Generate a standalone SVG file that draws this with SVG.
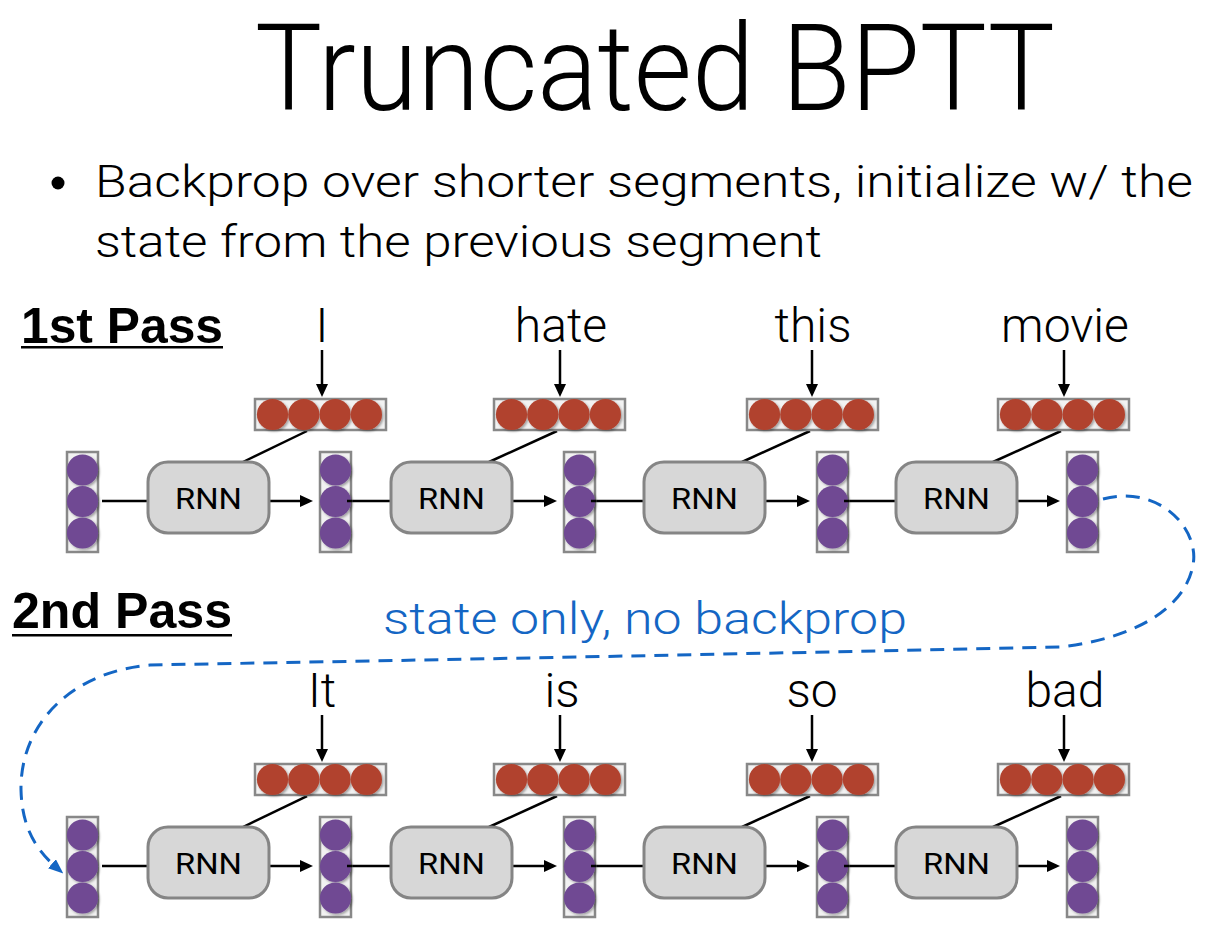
<svg xmlns="http://www.w3.org/2000/svg" xmlns:xlink="http://www.w3.org/1999/xlink" width="1217" height="940" viewBox="0 0 1217 940">
<style>
.light{font-family:Roboto,'Liberation Sans',sans-serif;font-weight:300;fill:#000}
.bold{font-family:'Liberation Sans',Arial,sans-serif;font-weight:bold;fill:#000}
.blue{fill:#1466c4}
.rnnbox{fill:#d7d7d7;stroke:#858585;stroke-width:3}
.rnntxt{font-family:Roboto,'Liberation Sans',sans-serif;font-weight:400;font-size:30px;text-anchor:middle;fill:#000}
.lbl{font-family:Roboto,'Liberation Sans',sans-serif;font-weight:300;font-size:48px;text-anchor:middle;fill:#000}
.edge{stroke:#000;stroke-width:2.5;fill:none}
.arr{stroke:#000;stroke-width:2.5;fill:none;marker-end:url(#ah)}
.vecbox{fill:#f2f2f2;stroke:#888;stroke-width:2.5}
.purple{fill:#6f4a93}
.red{fill:#b1432f}
.dash{stroke:#1466c4;stroke-width:3;fill:none;stroke-dasharray:14 9;marker-end:url(#bh)}
</style>
<defs>
<filter id="sh" x="-30%" y="-30%" width="160%" height="160%">
<feDropShadow dx="1.5" dy="1.5" stdDeviation="1.2" flood-color="#000" flood-opacity="0.35"/>
</filter>
<marker id="ah" viewBox="0 0 13 12" refX="7" refY="6" markerWidth="13" markerHeight="12" markerUnits="userSpaceOnUse" orient="auto">
<path d="M0,0 L13,6 L0,12 z" fill="#000"/>
</marker>
<marker id="bh" viewBox="0 0 15 12" refX="8" refY="6" markerWidth="15" markerHeight="12" markerUnits="userSpaceOnUse" orient="auto">
<path d="M0,0 L15,6 L0,12 z" fill="#1466c4"/>
</marker>
<g id="stateVec">
<rect class="vecbox" x="0" y="0" width="31" height="100"/>
<g filter="url(#sh)">
<circle class="purple" cx="15.5" cy="18" r="15.6"/>
<circle class="purple" cx="15.5" cy="49.5" r="15.6"/>
<circle class="purple" cx="15.5" cy="81" r="15.6"/>
</g>
</g>
<g id="embVec">
<rect class="vecbox" x="0" y="0" width="131" height="31"/>
<g filter="url(#sh)">
<circle class="red" cx="17.5" cy="15.5" r="15.6"/>
<circle class="red" cx="48.8" cy="15.5" r="15.6"/>
<circle class="red" cx="80.1" cy="15.5" r="15.6"/>
<circle class="red" cx="111.4" cy="15.5" r="15.6"/>
</g>
</g>
<g id="rnn">
<rect class="rnnbox" x="0" y="0" width="121" height="71" rx="20" ry="20"/>
<text class="rnntxt" x="60.5" y="47" textLength="67" lengthAdjust="spacingAndGlyphs">RNN</text>
</g>
</defs>

<g id="title">
<text class="light" x="255" y="110" font-size="121" textLength="800" lengthAdjust="spacingAndGlyphs">Truncated BPTT</text>
</g>
<g id="bullet">
<circle cx="58" cy="183" r="6.5" fill="#000"/>
<text class="light" x="95" y="197" font-size="44" textLength="1098" lengthAdjust="spacingAndGlyphs">Backprop over shorter segments, initialize w/ the</text>
<text class="light" x="95" y="257" font-size="44" textLength="727" lengthAdjust="spacingAndGlyphs">state from the previous segment</text>
</g>

<g id="pass1-label">
<text class="bold" x="21" y="343" font-size="50" textLength="202" lengthAdjust="spacingAndGlyphs">1st Pass</text>
<rect x="21" y="346" width="202" height="2.5" fill="#000"/>
</g>
<g id="pass2-label">
<text class="bold" x="12" y="628" font-size="50" textLength="220" lengthAdjust="spacingAndGlyphs">2nd Pass</text>
<rect x="12" y="634" width="220" height="2.5" fill="#000"/>
</g>
<g id="state-note">
<text class="light blue" x="383" y="634" font-size="44" textLength="524" lengthAdjust="spacingAndGlyphs">state only, no backprop</text>
</g>

<g id="connectors">
<!-- pass 1 -->
<line class="arr" x1="322" y1="350" x2="322" y2="391"/>
<line class="arr" x1="560" y1="350" x2="560" y2="391"/>
<line class="arr" x1="812" y1="350" x2="812" y2="391"/>
<line class="arr" x1="1064" y1="350" x2="1064" y2="391"/>
<line class="edge" x1="307" y1="431" x2="243" y2="462"/>
<line class="edge" x1="557" y1="431" x2="489" y2="462"/>
<line class="edge" x1="810" y1="431" x2="742" y2="462"/>
<line class="edge" x1="1061" y1="431" x2="993" y2="462"/>
<line class="edge" x1="102" y1="501" x2="148" y2="501"/>
<line class="edge" x1="347" y1="501" x2="391" y2="501"/>
<line class="edge" x1="591" y1="501" x2="644" y2="501"/>
<line class="edge" x1="844" y1="501" x2="896" y2="501"/>
<line class="arr" x1="269" y1="501" x2="307" y2="501"/>
<line class="arr" x1="512" y1="501" x2="551" y2="501"/>
<line class="arr" x1="765" y1="501" x2="804" y2="501"/>
<line class="arr" x1="1017" y1="501" x2="1054" y2="501"/>
<!-- pass 2 -->
<line class="arr" x1="322" y1="715" x2="322" y2="756"/>
<line class="arr" x1="560" y1="715" x2="560" y2="756"/>
<line class="arr" x1="812" y1="715" x2="812" y2="756"/>
<line class="arr" x1="1064" y1="715" x2="1064" y2="756"/>
<line class="edge" x1="307" y1="796" x2="243" y2="827"/>
<line class="edge" x1="557" y1="796" x2="489" y2="827"/>
<line class="edge" x1="810" y1="796" x2="742" y2="827"/>
<line class="edge" x1="1061" y1="796" x2="993" y2="827"/>
<line class="edge" x1="102" y1="866" x2="148" y2="866"/>
<line class="edge" x1="347" y1="866" x2="391" y2="866"/>
<line class="edge" x1="591" y1="866" x2="644" y2="866"/>
<line class="edge" x1="844" y1="866" x2="896" y2="866"/>
<line class="arr" x1="269" y1="866" x2="307" y2="866"/>
<line class="arr" x1="512" y1="866" x2="551" y2="866"/>
<line class="arr" x1="765" y1="866" x2="804" y2="866"/>
<line class="arr" x1="1017" y1="866" x2="1054" y2="866"/>
<!-- state carry-over -->
<path class="dash" d="M1103,499 C1160,484 1200,530 1193,565 C1186,605 1140,638 1060,647 Q600,657 150,665 C70,672 20,725 21,790 C22,828 36,850 58,869"/>
</g>

<g id="labels1">
<text class="lbl" x="322" y="342">I</text>
<text class="lbl" x="561" y="342">hate</text>
<text class="lbl" x="813" y="342">this</text>
<text class="lbl" x="1065" y="342">movie</text>
</g>
<g id="labels2">
<text class="lbl" x="322" y="707">It</text>
<text class="lbl" x="562" y="707">is</text>
<text class="lbl" x="812" y="707">so</text>
<text class="lbl" x="1065" y="707">bad</text>
</g>

<g id="p1-emb1"><use xlink:href="#embVec" x="255" y="399"/></g>
<g id="p1-emb2"><use xlink:href="#embVec" x="494" y="399"/></g>
<g id="p1-emb3"><use xlink:href="#embVec" x="747" y="399"/></g>
<g id="p1-emb4"><use xlink:href="#embVec" x="998" y="399"/></g>
<g id="p1-h0"><use xlink:href="#stateVec" x="67" y="452"/></g>
<g id="p1-h1"><use xlink:href="#stateVec" x="320" y="452"/></g>
<g id="p1-h2"><use xlink:href="#stateVec" x="564" y="452"/></g>
<g id="p1-h3"><use xlink:href="#stateVec" x="817" y="452"/></g>
<g id="p1-h4"><use xlink:href="#stateVec" x="1067" y="452"/></g>
<g id="p1-rnn1"><use xlink:href="#rnn" x="148" y="462"/></g>
<g id="p1-rnn2"><use xlink:href="#rnn" x="391" y="462"/></g>
<g id="p1-rnn3"><use xlink:href="#rnn" x="644" y="462"/></g>
<g id="p1-rnn4"><use xlink:href="#rnn" x="896" y="462"/></g>

<g id="p2-emb1"><use xlink:href="#embVec" x="255" y="764"/></g>
<g id="p2-emb2"><use xlink:href="#embVec" x="494" y="764"/></g>
<g id="p2-emb3"><use xlink:href="#embVec" x="747" y="764"/></g>
<g id="p2-emb4"><use xlink:href="#embVec" x="998" y="764"/></g>
<g id="p2-h0"><use xlink:href="#stateVec" x="67" y="817"/></g>
<g id="p2-h1"><use xlink:href="#stateVec" x="320" y="817"/></g>
<g id="p2-h2"><use xlink:href="#stateVec" x="564" y="817"/></g>
<g id="p2-h3"><use xlink:href="#stateVec" x="817" y="817"/></g>
<g id="p2-h4"><use xlink:href="#stateVec" x="1067" y="817"/></g>
<g id="p2-rnn1"><use xlink:href="#rnn" x="148" y="827"/></g>
<g id="p2-rnn2"><use xlink:href="#rnn" x="391" y="827"/></g>
<g id="p2-rnn3"><use xlink:href="#rnn" x="644" y="827"/></g>
<g id="p2-rnn4"><use xlink:href="#rnn" x="896" y="827"/></g>

<g id="overlay-lines">
<line class="edge" x1="347" y1="501" x2="352" y2="501"/>
<line class="edge" x1="591" y1="501" x2="596" y2="501"/>
<line class="edge" x1="844" y1="501" x2="849" y2="501"/>
<line class="edge" x1="347" y1="866" x2="352" y2="866"/>
<line class="edge" x1="591" y1="866" x2="596" y2="866"/>
<line class="edge" x1="844" y1="866" x2="849" y2="866"/>
</g>
</svg>
